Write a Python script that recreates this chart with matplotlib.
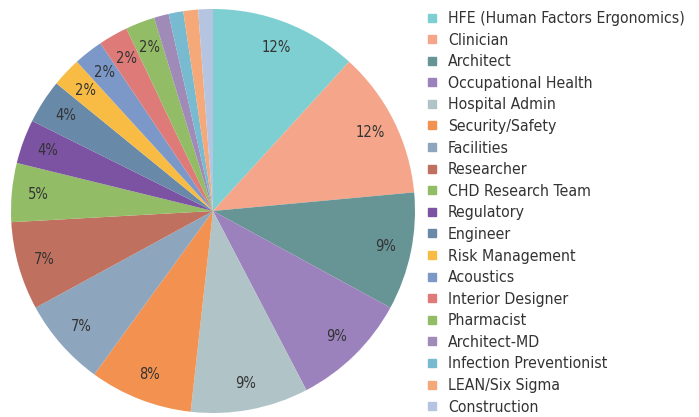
import matplotlib
matplotlib.use('Agg')
import matplotlib.pyplot as plt
from matplotlib.lines import Line2D

roles = ['HFE (Human Factors Ergonomics)', 'Clinician', 'Architect', 'Occupational Health',
         'Hospital Admin', 'Security/Safety', 'Facilities', 'Researcher', 'CHD Research Team',
         'Regulatory', 'Engineer', 'Risk Management', 'Acoustics', 'Interior Designer',
         'Pharmacist', 'Architect-MD', 'Infection Preventionist', 'LEAN/Six Sigma', 'Construction']
counts = [10, 10, 8, 8, 8, 7, 6, 6, 4, 3, 3, 2, 2, 2, 2, 1, 1, 1, 1]
colors = ['#7ecfd1', '#f4a58a', '#679596', '#9c82bc', '#b0c3c7', '#f39250', '#8da5bd',
          '#c0705e', '#93bc66', '#7c52a2', '#6889a8', '#f8bc45', '#7b98c8', '#de7b78',
          '#93bc66', '#9f8ab8', '#78bbd0', '#f5a878', '#b5c4e0']

plt.rcParams['font.family'] = ['DejaVu Sans']
plt.rcParams['font.stretch'] = 'condensed'

fig = plt.figure(figsize=(6.99, 4.17), dpi=100)
ax = fig.add_axes([11 / 699, 4 / 417, 404 / 699, 404 / 417])

def pct_label(p):
    return f'{p:.0f}%' if p >= 2 else ''

wedges, texts, autotexts = ax.pie(counts, colors=colors, startangle=90, counterclock=False,
                                  autopct=pct_label, pctdistance=0.87,
                                  textprops={'fontsize': 10.5, 'color': '#333333'})
ax.set_xlim(-1, 1)
ax.set_ylim(-1, 1)
ax.set_aspect('equal')

handles = [Line2D([], [], marker='s', linestyle='none', markersize=6, color=c) for c in colors]
fig.legend(handles, roles, loc='upper left', bbox_to_anchor=(426 / 699, 1 - 11 / 417),
           frameon=False, fontsize=11.3, labelspacing=0.42, handlelength=0.8,
           handletextpad=0.6, borderaxespad=0, borderpad=0, labelcolor='#333333')

fig.savefig('out.png', dpi=100)
